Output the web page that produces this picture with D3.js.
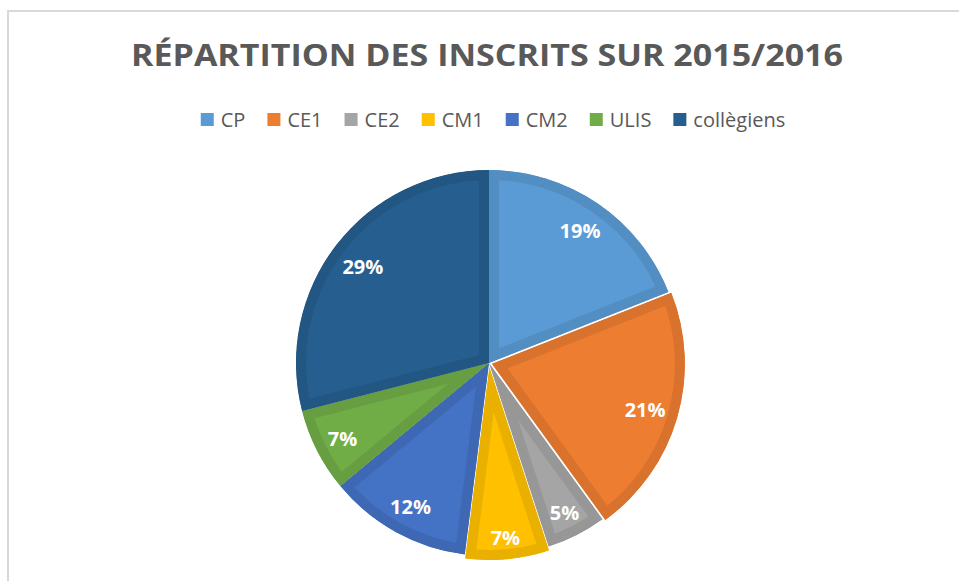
<html>
<script src='https://d3js.org/d3.v7.min.js'></script>
<style>
body {margin: 0; background: white;}
text {font-family: 'Open Sans', sans-serif;}
</style>
<body onload='init()'>
<svg width=959 height=581></svg>
<script>
// chart values
var categories = ["CP", "CE1", "CE2", "CM1", "CM2", "ULIS", "collègiens"];
var percents = [19, 21, 5, 7, 12, 7, 29];
var colors = ["#5B9BD5", "#ED7D31", "#A5A5A5", "#FFC000", "#4472C4", "#70AD47", "#255E8F"];
var explode = [0, 3, 0, 4, 0, 0, 0];
var title = "RÉPARTITION DES INSCRITS SUR 2015/2016";

function init() {
var svg = d3.select("svg");
var cx = 489, cy = 363, R = 193;

// chart frame
svg.append("rect")
    .attr("x", 8).attr("y", 11)
    .attr("width", 1000).attr("height", 1000)
    .attr("fill", "none").attr("stroke", "#d9d9d9").attr("stroke-width", 2);

// title
svg.append("text")
    .attr("x", 487).attr("y", 66)
    .attr("text-anchor", "middle")
    .attr("font-size", 30).attr("font-weight", "bold")
    .attr("fill", "#595959")
    .attr("textLength", 712).attr("lengthAdjust", "spacingAndGlyphs")
    .text(title);

// legend laid out from text widths
var leg = svg.append("g");
var x = 0;
categories.forEach(function(c, i) {
  var g = leg.append("g").attr("transform", "translate(" + x + ",0)");
  g.append("rect").attr("x", 0).attr("y", 113).attr("width", 13).attr("height", 13)
      .attr("fill", colors[i]);
  var t = g.append("text").attr("x", 20).attr("y", 126.5)
      .attr("font-size", 20).attr("fill", "#595959").text(c);
  x += 20 + t.node().getComputedTextLength() + 22;
});
var total = x - 22;
leg.attr("transform", "translate(" + (493 - total / 2) + ",0)");

// pie
var pie = d3.pie().sort(null).value(function(d) { return d; });
var arcs = pie(percents);
var arc = d3.arc().innerRadius(0).outerRadius(R);

var defs = svg.append("defs");
var pg = svg.append("g").attr("transform", "translate(" + cx + "," + cy + ")");

arcs.forEach(function(a, i) {
  var mid = (a.startAngle + a.endAngle) / 2;
  var dx = Math.sin(mid) * explode[i], dy = -Math.cos(mid) * explode[i];
  defs.append("clipPath").attr("id", "clip" + i)
    .append("path").attr("d", arc(a));
  var g = pg.append("g").attr("transform", "translate(" + dx + "," + dy + ")");
  g.append("path")
      .attr("d", arc(a))
      .attr("fill", colors[i])
      .attr("stroke", d3.color(colors[i]).darker(0.25))
      .attr("stroke-width", 20)
      .attr("stroke-linejoin", "miter")
      .attr("clip-path", "url(#clip" + i + ")");
});

// data labels, placed inside end
arcs.forEach(function(a, i) {
  var mid = (a.startAngle + a.endAngle) / 2;
  var sx = Math.sin(mid), sy = -Math.cos(mid);
  var txt = pg.append("text")
      .attr("text-anchor", "middle")
      .attr("dominant-baseline", "central")
      .attr("font-size", 20).attr("font-weight", "bold")
      .attr("fill", "white")
      .text(percents[i] + "%");
  var hw = txt.node().getComputedTextLength() / 2, hh = 10;
  var lim = R - 11;
  var b = Math.abs(sx) * hw + Math.abs(sy) * hh;
  var r = (-b + Math.sqrt(b * b - (hw * hw + hh * hh - lim * lim)));
  r += explode[i];
  txt.attr("x", sx * r).attr("y", sy * r + 1);
});
}
</script>
</body>
</html>
